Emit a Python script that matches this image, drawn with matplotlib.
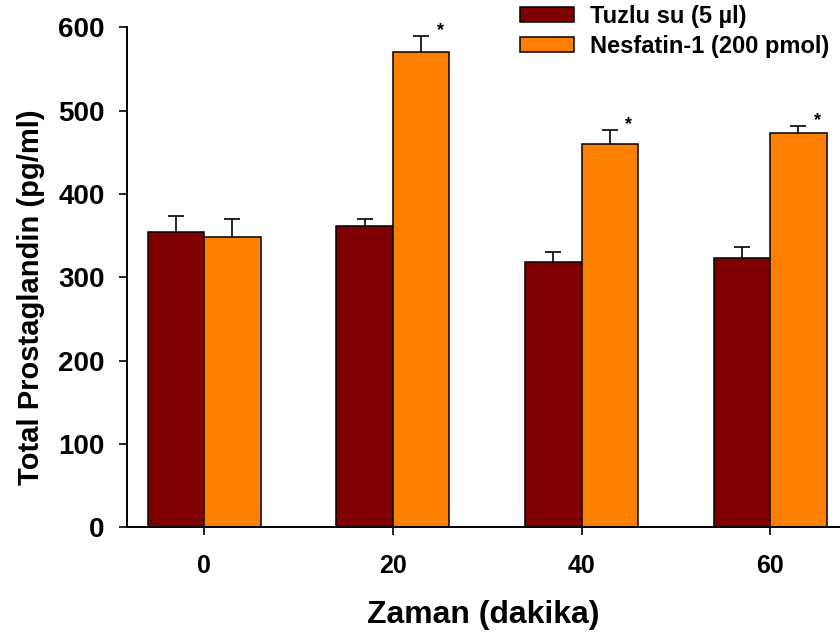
import matplotlib
matplotlib.use('Agg')
import matplotlib.pyplot as plt
import numpy as np

plt.rcParams['font.family'] = ['Liberation Sans', 'DejaVu Sans']
plt.rcParams['font.weight'] = 'bold'

times = [0, 20, 40, 60]
saline_mean = [354, 361, 318, 323]
saline_err = [20, 9, 12, 13]
nesfatin_mean = [348, 571, 460, 473]
nesfatin_err = [22, 19, 17, 9]
significant = [False, True, True, True]

labels = ["Tuzlu su (5 \u00b5l)", "Nesfatin-1 (200 pmol)"]
colors = ["#800000", "#FF8000"]


def draw_graphic():
    fig = plt.figure(figsize=(8.4, 6.36), dpi=100)
    ax = fig.add_axes([0.151, 0.171, 0.849, 0.786])

    x = np.array(times, dtype=float)
    w = 6.0
    err_kw = dict(ecolor="black", elinewidth=1.2, capsize=6, capthick=1.2)
    bars = []
    for off, mean, err, col, lab in [(-w / 2, saline_mean, saline_err, colors[0], labels[0]),
                                     (w / 2, nesfatin_mean, nesfatin_err, colors[1], labels[1])]:
        b = ax.bar(x + off, mean, w, color=col, edgecolor="black", linewidth=1.1,
                   yerr=[np.zeros(len(err)), err], error_kw=err_kw, label=lab)
        # only the upper cap
        b.errorbar.lines[1][0].set_visible(False)
        bars.append(b)

    for xi, m, e, s in zip(x, nesfatin_mean, nesfatin_err, significant):
        if s:
            ax.text(xi + w / 2 + 2.0, m + e - 4, "*", ha="center", va="bottom",
                    fontsize=13, fontweight="bold", clip_on=False)

    ax.set_xlim(-8.2, 67.4)
    ax.set_ylim(0, 600)
    ax.set_xticks(times)
    ax.set_xticklabels([str(t) for t in times], fontsize=18, fontweight="bold")
    ax.set_yticks(range(0, 601, 100))
    ax.set_yticklabels([str(v) for v in range(0, 601, 100)], fontsize=20,
                       fontweight="bold")
    ax.tick_params(axis="both", direction="out", length=6, width=1.2)
    ax.tick_params(axis="x", pad=13)
    ax.tick_params(axis="y", pad=10)
    for side in ["top", "right"]:
        ax.spines[side].set_visible(False)
    for side in ["left", "bottom"]:
        ax.spines[side].set_linewidth(1.4)

    ax.set_xlabel("Zaman (dakika)", fontsize=23, fontweight="bold", labelpad=16)
    ax.set_ylabel("Total Prostaglandin (pg/ml)", fontsize=21, fontweight="bold")
    ax.yaxis.set_label_coords(-0.115, 0.46)

    fig.legend(handles=bars, labels=labels, loc="upper left",
               bbox_to_anchor=(0.613, 1.0), frameon=False,
               handlelength=2.29, handleheight=0.64, handletextpad=0.68,
               labelspacing=0.3, borderaxespad=0, borderpad=0.2,
               prop={"weight": "bold", "size": 17})

    fig.savefig("out.png", dpi=100)


if __name__ == "__main__":
    draw_graphic()
